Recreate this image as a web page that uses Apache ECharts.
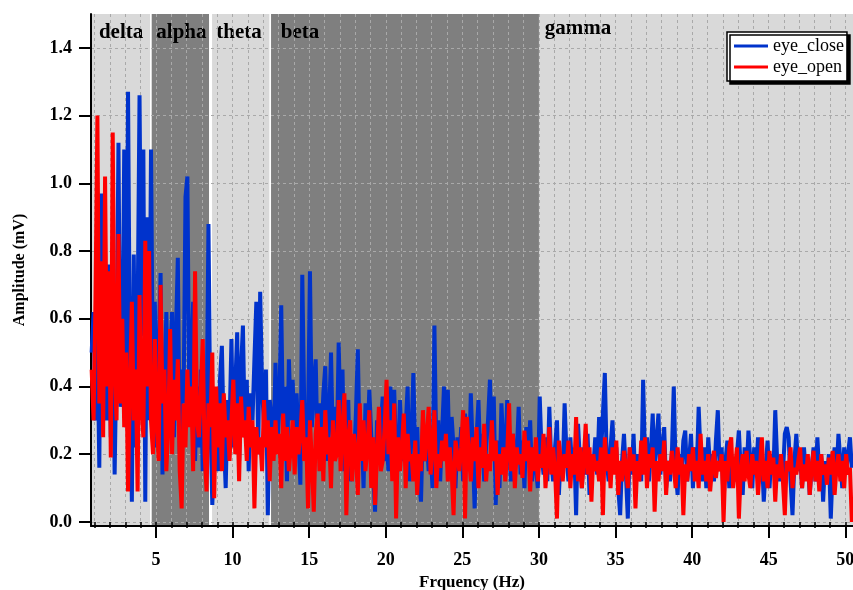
<!DOCTYPE html>
<html>
<head>
<meta charset="utf-8">
<script src="https://cdn.jsdelivr.net/npm/echarts@6/dist/echarts.min.js"></script>
<style>
  html, body { margin: 0; padding: 0; background: #ffffff; }
  #chart { width: 853px; height: 590px; }
</style>
</head>
<body>
<div id="chart"></div>
<script>
// Spectrum sampling: first bin and bin width (Hz)
const FREQ_START = 0.8;
const FREQ_STEP = 0.125;

// Amplitude spectrum, eyes closed (mV), 8 bins per Hz per row
const eyeClose = [
  0.50, 0.62, 0.30, 0.56, 0.16, 0.97, 0.44, 0.58,
  0.30, 0.76, 0.25, 0.62, 0.14, 0.50, 1.12, 0.34,
  0.40, 1.10, 0.28, 1.27, 0.45, 0.06, 0.79, 0.22,
  0.60, 1.26, 0.55, 1.10, 0.06, 0.90, 0.30, 1.10,
  0.38, 0.65, 0.22, 0.50, 0.735, 0.14, 0.40, 0.62,
  0.30, 0.48, 0.62, 0.25, 0.55, 0.78, 0.20, 0.45,
  0.35, 0.96, 1.02, 0.30, 0.48, 0.65, 0.18, 0.40,
  0.22, 0.45, 0.15, 0.38, 0.28, 0.88, 0.30, 0.05,
  0.20, 0.34, 0.15, 0.42, 0.52, 0.25, 0.10, 0.36,
  0.28, 0.54, 0.22, 0.40, 0.56, 0.18, 0.45, 0.58,
  0.25, 0.42, 0.15, 0.38, 0.30, 0.48, 0.65, 0.20,
  0.68, 0.40, 0.28, 0.45, 0.02, 0.36, 0.30, 0.22,
  0.47, 0.22, 0.35, 0.64, 0.25, 0.40, 0.12, 0.48,
  0.30, 0.42, 0.20, 0.38, 0.25, 0.11, 0.73, 0.35,
  0.22, 0.30, 0.74, 0.28, 0.40, 0.48, 0.20, 0.35,
  0.25, 0.38, 0.46, 0.18, 0.30, 0.50, 0.22, 0.34,
  0.20, 0.53, 0.28, 0.45, 0.15, 0.30, 0.36, 0.12,
  0.25, 0.18, 0.32, 0.51, 0.20, 0.28, 0.10, 0.35,
  0.22, 0.39, 0.26, 0.15, 0.03, 0.30, 0.20, 0.28,
  0.37, 0.18, 0.25, 0.15, 0.40, 0.22, 0.39, 0.20,
  0.15, 0.36, 0.22, 0.18, 0.28, 0.40, 0.12, 0.25,
  0.44, 0.20, 0.28, 0.12, 0.06, 0.30, 0.18, 0.25,
  0.15, 0.22, 0.10, 0.58, 0.20, 0.30, 0.12, 0.26,
  0.40, 0.20, 0.39, 0.16, 0.31, 0.22, 0.10, 0.25,
  0.18, 0.28, 0.12, 0.32, 0.20, 0.15, 0.38, 0.22,
  0.04, 0.25, 0.36, 0.18, 0.26, 0.12, 0.22, 0.30,
  0.42, 0.20, 0.37, 0.05, 0.24, 0.10, 0.35, 0.22,
  0.18, 0.36, 0.22, 0.12, 0.26, 0.15, 0.20, 0.34,
  0.14, 0.24, 0.10, 0.28, 0.18, 0.30, 0.12, 0.22,
  0.16, 0.10, 0.37, 0.20, 0.14, 0.25, 0.12, 0.34,
  0.18, 0.12, 0.22, 0.30, 0.08, 0.20, 0.15, 0.35,
  0.20, 0.12, 0.25, 0.15, 0.22, 0.02, 0.29, 0.18,
  0.10, 0.22, 0.14, 0.26, 0.08, 0.20, 0.16, 0.25,
  0.14, 0.31, 0.20, 0.32, 0.44, 0.18, 0.12, 0.22,
  0.30, 0.15, 0.22, 0.10, 0.02, 0.18, 0.26, 0.14,
  0.01, 0.22, 0.14, 0.26, 0.10, 0.20, 0.16, 0.12,
  0.42, 0.18, 0.25, 0.12, 0.20, 0.32, 0.15, 0.24,
  0.32, 0.14, 0.22, 0.28, 0.10, 0.18, 0.12, 0.20,
  0.40, 0.15, 0.08, 0.20, 0.14, 0.24, 0.27, 0.12,
  0.18, 0.26, 0.10, 0.22, 0.15, 0.34, 0.20, 0.12,
  0.22, 0.10, 0.25, 0.16, 0.20, 0.12, 0.24, 0.33,
  0.15, 0.22, 0.06, 0.18, 0.24, 0.10, 0.20, 0.14,
  0.12, 0.20, 0.27, 0.15, 0.08, 0.22, 0.14, 0.27,
  0.18, 0.10, 0.22, 0.14, 0.25, 0.12, 0.20, 0.06,
  0.16, 0.24, 0.10, 0.20, 0.14, 0.33, 0.18, 0.12,
  0.20, 0.14, 0.26, 0.28, 0.25, 0.12, 0.02, 0.18,
  0.26, 0.15, 0.20, 0.10, 0.22, 0.14, 0.18, 0.08,
  0.16, 0.22, 0.12, 0.25, 0.14, 0.20, 0.06, 0.18,
  0.12, 0.20, 0.01, 0.16, 0.22, 0.14, 0.26, 0.18,
  0.10, 0.22, 0.14, 0.20, 0.25, 0.16
];

// Amplitude spectrum, eyes open (mV), same bins
const eyeOpen = [
  0.45, 0.30, 0.66, 1.20, 0.35, 0.77, 0.25, 1.02,
  0.40, 0.74, 0.19, 1.15, 0.45, 0.30, 0.85, 0.35,
  0.60, 0.28, 0.50, 0.09, 0.40, 0.65, 0.30, 0.45,
  0.09, 0.67, 0.35, 0.25, 0.83, 0.40, 0.80, 0.30,
  0.20, 0.54, 0.30, 0.18, 0.70, 0.35, 0.45, 0.15,
  0.28, 0.57, 0.20, 0.42, 0.30, 0.48, 0.15, 0.04,
  0.35, 0.22, 0.45, 0.28, 0.40, 0.15, 0.74, 0.30,
  0.25, 0.38, 0.54, 0.20, 0.09, 0.35, 0.28, 0.50,
  0.07, 0.40, 0.22, 0.35, 0.15, 0.38, 0.25, 0.30,
  0.18, 0.30, 0.42, 0.20, 0.35, 0.12, 0.37, 0.25,
  0.30, 0.18, 0.34, 0.22, 0.30, 0.04, 0.28, 0.20,
  0.25, 0.15, 0.36, 0.22, 0.30, 0.12, 0.28, 0.18,
  0.30, 0.20, 0.26, 0.10, 0.32, 0.18, 0.28, 0.15,
  0.22, 0.30, 0.14, 0.28, 0.20, 0.26, 0.36, 0.18,
  0.25, 0.04, 0.30, 0.18, 0.03, 0.26, 0.32, 0.15,
  0.28, 0.12, 0.33, 0.20, 0.25, 0.10, 0.30, 0.18,
  0.20, 0.36, 0.15, 0.28, 0.38, 0.02, 0.25, 0.30,
  0.12, 0.26, 0.20, 0.08, 0.35, 0.18, 0.30, 0.15,
  0.22, 0.33, 0.10, 0.25, 0.05, 0.20, 0.34, 0.15,
  0.18, 0.28, 0.42, 0.20, 0.30, 0.12, 0.35, 0.01,
  0.25, 0.15, 0.22, 0.32, 0.10, 0.26, 0.18, 0.20,
  0.12, 0.24, 0.08, 0.20, 0.15, 0.33, 0.18, 0.25,
  0.34, 0.14, 0.22, 0.33, 0.10, 0.20, 0.16, 0.24,
  0.18, 0.26, 0.12, 0.22, 0.15, 0.02, 0.24, 0.20,
  0.15, 0.22, 0.33, 0.01, 0.31, 0.20, 0.12, 0.25,
  0.18, 0.28, 0.10, 0.22, 0.16, 0.29, 0.12, 0.20,
  0.15, 0.30, 0.18, 0.24, 0.08, 0.20, 0.14, 0.22,
  0.12, 0.20, 0.35, 0.15, 0.26, 0.10, 0.22, 0.17,
  0.20, 0.13, 0.27, 0.18, 0.24, 0.09, 0.22, 0.15,
  0.25, 0.12, 0.20, 0.16, 0.26, 0.10, 0.18, 0.28,
  0.14, 0.22, 0.15, 0.01, 0.24, 0.18, 0.12, 0.20,
  0.16, 0.24, 0.10, 0.20, 0.14, 0.31, 0.12, 0.22,
  0.10, 0.18, 0.29, 0.14, 0.22, 0.06, 0.20, 0.15,
  0.18, 0.12, 0.22, 0.02, 0.25, 0.15, 0.20, 0.10,
  0.22, 0.14, 0.24, 0.08, 0.18, 0.12, 0.21, 0.16,
  0.10, 0.22, 0.15, 0.20, 0.04, 0.18, 0.12, 0.24,
  0.14, 0.25, 0.10, 0.20, 0.16, 0.22, 0.03, 0.18,
  0.12, 0.20, 0.15, 0.24, 0.08, 0.18, 0.14, 0.21,
  0.16, 0.10, 0.22, 0.14, 0.19, 0.02, 0.17, 0.12,
  0.20, 0.15, 0.22, 0.12, 0.18, 0.10, 0.26, 0.14,
  0.18, 0.12, 0.20, 0.09, 0.16, 0.21, 0.13, 0.18,
  0.15, 0.20, 0.00, 0.18, 0.12, 0.22, 0.25, 0.10,
  0.16, 0.22, 0.01, 0.15, 0.20, 0.12, 0.21, 0.14,
  0.10, 0.20, 0.14, 0.18, 0.08, 0.16, 0.25, 0.12,
  0.18, 0.10, 0.21, 0.14, 0.19, 0.06, 0.17, 0.13,
  0.20, 0.12, 0.02, 0.18, 0.15, 0.22, 0.10, 0.16,
  0.14, 0.18, 0.22, 0.10, 0.17, 0.12, 0.20, 0.08,
  0.16, 0.21, 0.12, 0.18, 0.09, 0.20, 0.14, 0.17,
  0.11, 0.19, 0.14, 0.21, 0.08, 0.16, 0.20, 0.12,
  0.18, 0.10, 0.20, 0.14, 0.16, 0.00
];

// EEG frequency bands (Hz)
const bandNames = ['delta', 'alpha', 'theta', 'beta', 'gamma'];
const bandStart = [0.757, 4.72, 8.66, 12.51, 30.0];
const bandEnd   = [4.61, 8.46, 12.40, 30.0, 50.5];
const bandLabelHz = [2.72, 6.66, 10.42, 14.4, 32.55];

// Axis ticks
const xMajorTicks = [5, 10, 15, 20, 25, 30, 35, 40, 45, 50];
const xMinorTicks = Array.from({ length: 50 }, (_, i) => i + 1);
const yTicks = [0, 0.2, 0.4, 0.6, 0.8, 1.0, 1.2, 1.4];

const X_MIN = 0.757, X_MAX = 50.5;
const Y_MIN = -0.012, Y_MAX = 1.5;

// Styling
const SERIF = '"Liberation Serif", "Times New Roman", serif';
const BAND_FILL = ['#d9d9d9', '#7f7f7f', '#d9d9d9', '#7f7f7f', '#d9d9d9'];
const BAND_LABEL_TOP = [19, 19, 19, 19, 15];
const GRID_COLOR = '#a9a9a9';

const toPoints = vals => vals.map((v, i) => [FREQ_START + i * FREQ_STEP, v]);

const chart = echarts.init(document.getElementById('chart'), null, { renderer: 'canvas' });

const axisLabelFont = { fontFamily: SERIF, fontWeight: 'bold', fontSize: 18, color: '#000' };

chart.setOption({
  animation: false,
  backgroundColor: '#ffffff',
  grid: { left: 91, right: 0, top: 14, bottom: 64, containLabel: false, outerBoundsMode: 'none' },
  legend: {
    data: ['eye_close', 'eye_open'],
    orient: 'vertical',
    left: 727,
    top: 32,
    icon: 'rect',
    itemWidth: 34,
    itemHeight: 3,
    itemGap: 1,
    padding: [4, 3, 4, 7],
    backgroundColor: '#ffffff',
    borderColor: '#000000',
    borderWidth: 1.5,
    borderRadius: 0,
    shadowColor: '#000000',
    shadowBlur: 0,
    shadowOffsetX: 3,
    shadowOffsetY: 3,
    textStyle: { fontFamily: SERIF, fontSize: 18, color: '#000', lineHeight: 20 }
  },
  xAxis: [
    {
      type: 'value', min: X_MIN, max: X_MAX, position: 'bottom',
      name: 'Frquency (Hz)', nameLocation: 'middle', nameGap: 43,
      nameTextStyle: { fontFamily: SERIF, fontWeight: 'bold', fontSize: 17, color: '#000' },
      axisLine: { show: true, onZero: false, lineStyle: { color: '#000', width: 2 } },
      axisTick: { show: true, inside: false, length: 12, customValues: xMajorTicks, lineStyle: { color: '#000', width: 2 } },
      axisLabel: Object.assign({ margin: 25, customValues: xMajorTicks, formatter: v => String(v) }, axisLabelFont),
      splitLine: { show: false }
    },
    {
      type: 'value', min: X_MIN, max: X_MAX, position: 'bottom',
      axisLine: { show: false },
      axisTick: { show: true, inside: false, length: 6, customValues: xMinorTicks, lineStyle: { color: '#000', width: 1.5 } },
      axisLabel: { show: false },
      splitLine: { show: true, lineStyle: { color: GRID_COLOR, width: 1, type: [3, 3] } }
    }
  ],
  yAxis: {
    type: 'value', min: Y_MIN, max: Y_MAX,
    name: 'Amplitude (mV)', nameLocation: 'middle', nameGap: 63, nameRotate: 90,
    nameTextStyle: { fontFamily: SERIF, fontWeight: 'bold', fontSize: 16, color: '#000' },
    axisLine: { show: true, onZero: false, lineStyle: { color: '#000', width: 2 } },
    axisTick: { show: true, inside: false, length: 12, customValues: yTicks, lineStyle: { color: '#000', width: 2 } },
    axisLabel: Object.assign({ margin: 19, customValues: yTicks, formatter: v => v.toFixed(1) }, axisLabelFont),
    splitLine: { show: true, lineStyle: { color: GRID_COLOR, width: 1, type: [3, 3] } }
  },
  series: [
    {
      type: 'custom',
      z: -1,
      silent: true,
      xAxisIndex: 0,
      clip: true,
      dimensions: ['start', 'end', 'labelAt', 'band'],
      encode: { x: [0, 1] },
      data: bandNames.map((n, i) => [bandStart[i], bandEnd[i], bandLabelHz[i], i]),
      renderItem: (params, api) => {
        const cs = params.coordSys;
        const x0 = api.coord([api.value(0), 0])[0];
        const x1 = api.coord([api.value(1), 0])[0];
        const xl = api.coord([api.value(2), 0])[0];
        const b = api.value(3);
        return {
          type: 'group',
          children: [
            { type: 'rect', shape: { x: x0, y: cs.y, width: x1 - x0, height: cs.height },
              style: { fill: BAND_FILL[b] } },
            { type: 'text', x: xl, y: cs.y + BAND_LABEL_TOP[b], z2: 10,
              style: { text: bandNames[b], fill: '#000', align: 'center', verticalAlign: 'middle',
                       font: 'bold 21px ' + SERIF } }
          ]
        };
      }
    },
    {
      name: 'eye_close', type: 'line', xAxisIndex: 0,
      data: toPoints(eyeClose),
      showSymbol: false, symbol: 'none',
      lineStyle: { color: '#0033cc', width: 4 },
      itemStyle: { color: '#0033cc' },
      z: 3
    },
    {
      name: 'eye_open', type: 'line', xAxisIndex: 0,
      data: toPoints(eyeOpen),
      showSymbol: false, symbol: 'none',
      lineStyle: { color: '#ff0000', width: 4 },
      itemStyle: { color: '#ff0000' },
      z: 4
    }
  ]
});
</script>
</body>
</html>
